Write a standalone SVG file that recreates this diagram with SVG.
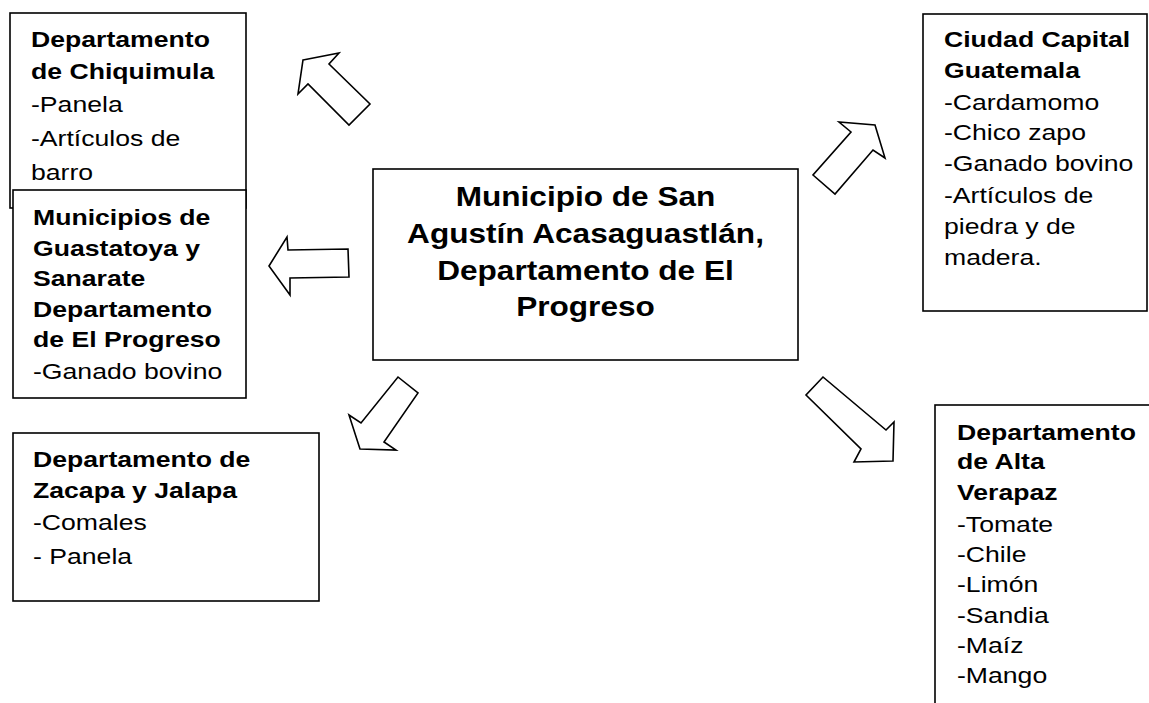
<svg xmlns="http://www.w3.org/2000/svg" width="1149" height="703" viewBox="0 0 1149 703">
<style>
.box{fill:#fff;stroke:#000;stroke-width:1.6}
.arr{fill:#fff;stroke:#000;stroke-width:1.6;stroke-linejoin:miter}
text{font-family:"Liberation Sans",Arial,sans-serif;fill:#000}
.t{font-size:22px}
.b{font-weight:bold}
.c{font-size:27px;font-weight:bold;text-anchor:middle}
</style>
<rect width="1149" height="703" fill="#fff"/>
<g id="connectors">
<polygon class="arr" points="303,60 339,53 329,64 370,104 349,125 308,84 298,94"/>
<polygon class="arr" points="269,266 287,237 288,250 348,249 349,277 290,278 290,295"/>
<polygon class="arr" points="360,449 349,415 361,423 398,377 418,393 384,442 396,450"/>
<polygon class="arr" points="875,125 885,158 873,150 835,194 813,175 851,132 839,122"/>
<polygon class="arr" points="893,461 854,462 861,449 806,395 823,377 886,430 894,422"/>
</g>
<g id="chiquimula">
<rect class="box" x="10" y="13" width="236" height="195"/>
<g transform="translate(31 0) scale(1.21 1)">
<text class="t"><tspan class="b" x="0" y="47">Departamento</tspan><tspan class="b" x="0" y="79">de Chiquimula</tspan><tspan x="0" y="112">-Panela</tspan><tspan x="0" y="146">-Artículos de</tspan><tspan x="0" y="180">barro</tspan></text>
</g>
</g>
<g id="guastatoya">
<rect class="box" x="13" y="190" width="233" height="208"/>
<g transform="translate(33 0) scale(1.21 1)">
<text class="t"><tspan class="b" x="0" y="225">Municipios de</tspan><tspan class="b" x="0" y="256">Guastatoya y</tspan><tspan class="b" x="0" y="286">Sanarate</tspan><tspan class="b" x="0" y="317">Departamento</tspan><tspan class="b" x="0" y="347">de El Progreso</tspan><tspan x="0" y="379">-Ganado bovino</tspan></text>
</g>
</g>
<g id="zacapa">
<rect class="box" x="13" y="433" width="306" height="168"/>
<g transform="translate(33 0) scale(1.21 1)">
<text class="t"><tspan class="b" x="0" y="467">Departamento de</tspan><tspan class="b" x="0" y="498">Zacapa y Jalapa</tspan><tspan x="0" y="530">-Comales</tspan><tspan x="0" y="564">- Panela</tspan></text>
</g>
</g>
<g id="centro">
<rect class="box" x="373" y="169" width="425" height="191"/>
<g transform="translate(585.5 0) scale(1.17 1)">
<text class="c"><tspan x="0" y="206">Municipio de San</tspan><tspan x="0" y="243">Agustín Acasaguastlán,</tspan><tspan x="0" y="280">Departamento de El</tspan><tspan x="0" y="316">Progreso</tspan></text>
</g>
</g>
<g id="guatemala">
<rect class="box" x="923" y="14" width="224" height="297"/>
<g transform="translate(944 0) scale(1.21 1)">
<text class="t"><tspan class="b" x="0" y="47">Ciudad Capital</tspan><tspan class="b" x="0" y="78">Guatemala</tspan><tspan x="0" y="110">-Cardamomo</tspan><tspan x="0" y="140">-Chico zapo</tspan><tspan x="0" y="171">-Ganado bovino</tspan><tspan x="0" y="203">-Artículos de</tspan><tspan x="0" y="234">piedra y de</tspan><tspan x="0" y="265">madera.</tspan></text>
</g>
</g>
<g id="altaverapaz">
<rect class="box" x="935" y="405" width="230" height="320"/>
<g transform="translate(957 0) scale(1.21 1)">
<text class="t"><tspan class="b" x="0" y="440">Departamento</tspan><tspan class="b" x="0" y="469">de Alta</tspan><tspan class="b" x="0" y="500">Verapaz</tspan><tspan x="0" y="532">-Tomate</tspan><tspan x="0" y="562">-Chile</tspan><tspan x="0" y="592">-Limón</tspan><tspan x="0" y="623">-Sandia</tspan><tspan x="0" y="653">-Maíz</tspan><tspan x="0" y="683">-Mango</tspan></text>
</g>
</g>
</svg>
